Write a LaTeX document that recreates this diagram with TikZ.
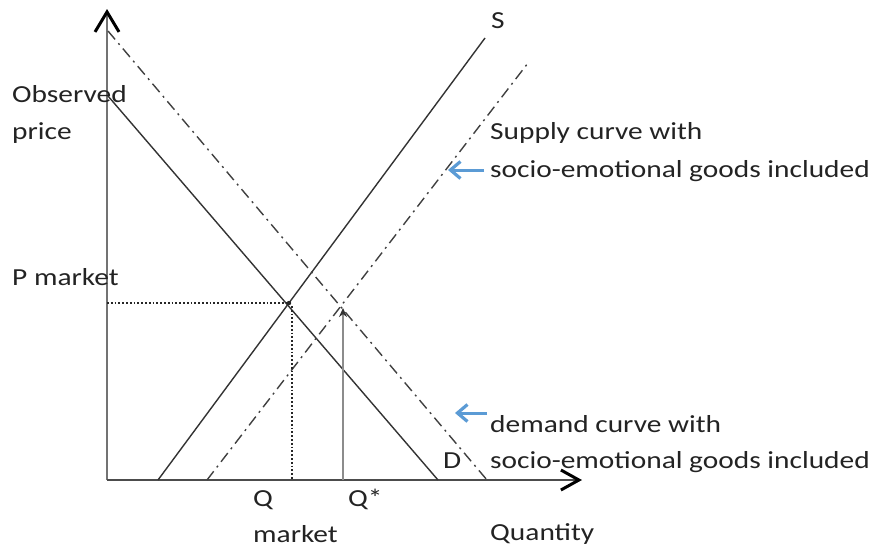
\documentclass[tikz,border=0pt]{standalone}
\usepackage{fontspec}
\setmainfont{Carlito}[FakeStretch=1.2]
\usetikzlibrary{arrows.meta}
\definecolor{txt}{RGB}{35,35,35}
\definecolor{arrblue}{RGB}{91,155,213}
\tikzset{
  lbl/.style={anchor=base west, inner sep=0pt, text=txt, font=\fontsize{24.5}{30}\selectfont},
  axis/.style={line width=2pt, draw=black!55, -{Straight Barb[length=20pt,width=24pt,line width=3pt,color=black]}},
  xaxis/.style={line width=1.5pt, draw=black!70, -{Straight Barb[length=18pt,width=20pt,line width=3pt,color=black]}},
  curve/.style={line width=1.4pt, draw=black!80},
  dashcurve/.style={line width=1.4pt, draw=black!75, dash pattern=on 11pt off 5pt on 2pt off 5pt},
  guide/.style={line width=1.8pt, draw=black!85, dotted},
  qarrow/.style={line width=1.5pt, draw=black!45, -{Stealth[length=9pt,width=8pt,color=black!80]}},
  bluearrow/.style={line width=3pt, draw=arrblue, -{Straight Barb[length=10pt,width=17pt,line width=3.2pt]}}
}
\begin{document}
\begin{tikzpicture}[x=1pt,y=-1pt]
\useasboundingbox (0,0) rectangle (874,552);
% axes
\coordinate (O) at (107,480);
\coordinate (Ytop) at (107,9);
\coordinate (Xend) at (582,480);
\draw[axis] (O) -- (Ytop);
\draw[xaxis] (O) -- (Xend);
% curves
\coordinate (S1) at (158,480);
\coordinate (S2) at (485,38);
\coordinate (Ss1) at (207,480);
\coordinate (Ss2) at (528,63);
\coordinate (D1) at (108,96);
\coordinate (D2) at (438,480);
\coordinate (Dd1) at (108,31);
\coordinate (Dd2) at (487,480);
\draw[curve] (S1) -- (S2);
\draw[curve] (D1) -- (D2);
\draw[dashcurve] (Ss1) -- (Ss2);
\draw[dashcurve] (Dd1) -- (Dd2);
% equilibrium
\coordinate (E) at (289,303);
\coordinate (Ey) at (107,303);
\coordinate (Ex) at (292,480);
\coordinate (Ev) at (292,306);
\coordinate (E2) at (343,308);
\coordinate (E2x) at (343,480);
\fill[black!85] (E) circle (2.2pt);
\draw[guide] (Ey) -- (E);
\draw[guide] (Ev) -- (Ex);
\draw[qarrow] (E2x) -- (E2);
% blue arrows
\coordinate (B1s) at (484,170);
\coordinate (B1e) at (448,170);
\coordinate (B2s) at (487,413);
\coordinate (B2e) at (455,413);
\draw[bluearrow] (B1s) -- (B1e);
\draw[bluearrow] (B2s) -- (B2e);
% labels
\node[lbl] (obs) at (12,102) {Observed};
\node[lbl] (price) at (12,139) {price};
\node[lbl] (pm) at (12,285) {P market};
\node[lbl] (s) at (491,28) {S};
\node[lbl] (sup1) at (490,139) {Supply curve with};
\node[lbl] (sup2) at (490,177) {socio-emotional goods included};
\node[lbl] (dem1) at (490,432) {demand curve with};
\node[lbl] (dem2) at (490,468) {socio-emotional goods included};
\node[lbl] (d) at (443,468) {D};
\node[lbl] (q) at (253,506) {Q};
\node[lbl] (qs) at (348,506) {Q*};
\node[lbl] (mkt) at (253,542) {market};
\node[lbl] (qty) at (490,540) {Quantity};
\end{tikzpicture}
\end{document}
